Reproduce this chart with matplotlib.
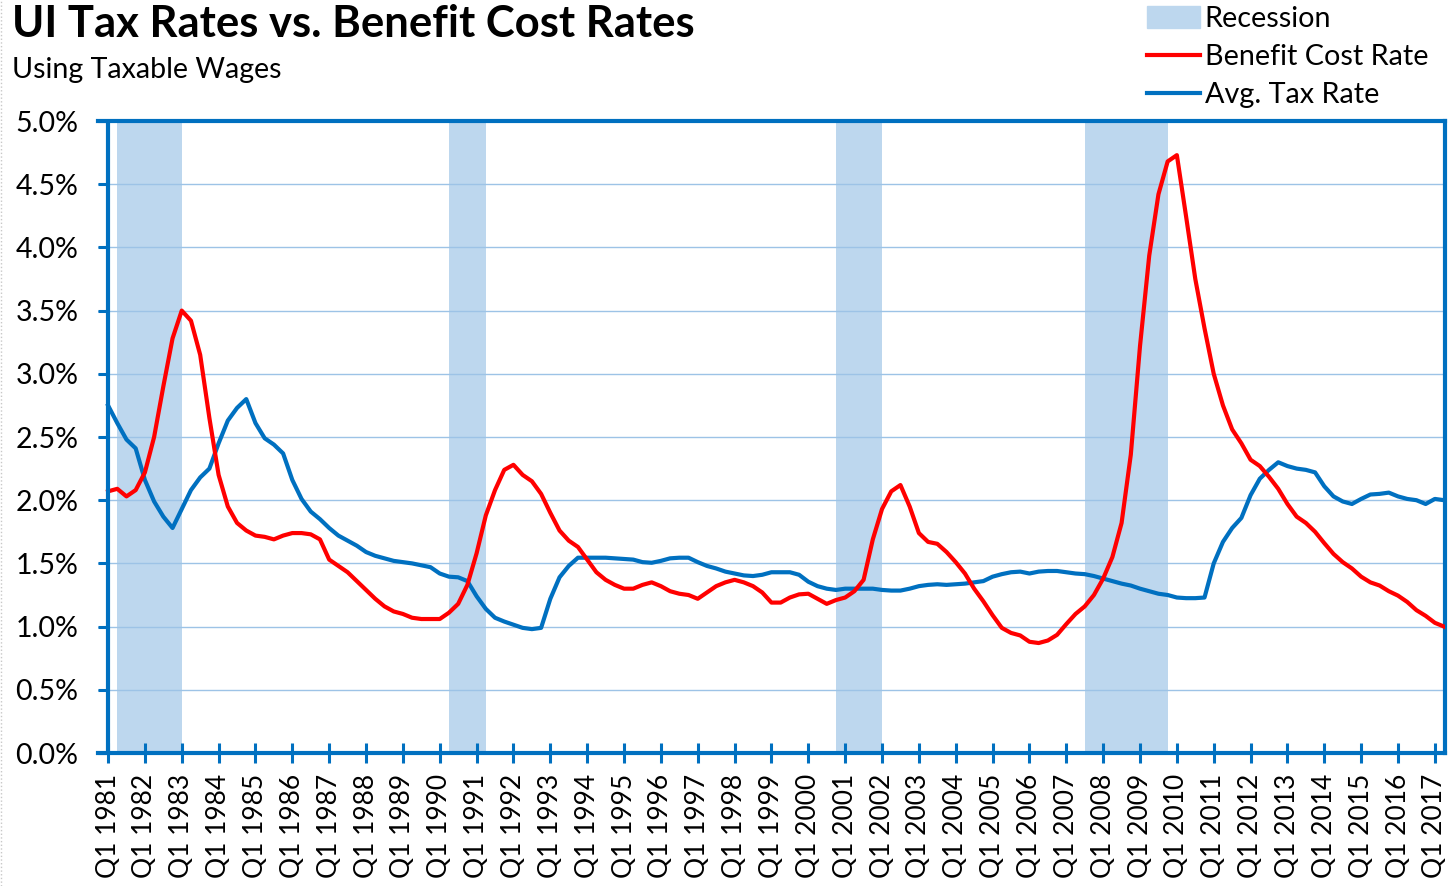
import matplotlib
matplotlib.use("Agg")
import matplotlib.pyplot as plt
from matplotlib.lines import Line2D
from matplotlib.patches import Patch
from matplotlib.ticker import FuncFormatter, FixedLocator, MultipleLocator

plt.rcParams['font.family'] = ['Lato', 'DejaVu Sans']

# quarterly series, Q1 1981 .. Q2 2017 (percent)
benefit_cost_rate = [
    2.07, 2.09, 2.03, 2.08, 2.22, 2.50, 2.90, 3.28, 3.50, 3.42,
    3.15, 2.65, 2.20, 1.95, 1.82, 1.76, 1.72, 1.71, 1.69, 1.72,
    1.74, 1.74, 1.73, 1.69, 1.53, 1.48, 1.43, 1.36, 1.29, 1.22,
    1.16, 1.12, 1.10, 1.07, 1.06, 1.06, 1.06, 1.11, 1.18, 1.33,
    1.58, 1.88, 2.08, 2.24, 2.28, 2.20, 2.15, 2.05, 1.90, 1.76,
    1.68, 1.63, 1.53, 1.43, 1.37, 1.33, 1.30, 1.30, 1.33, 1.35,
    1.32, 1.28, 1.26, 1.25, 1.22, 1.27, 1.32, 1.35, 1.37, 1.35,
    1.32, 1.27, 1.19, 1.19, 1.23, 1.255, 1.26, 1.22, 1.18, 1.21,
    1.23, 1.28, 1.37, 1.69, 1.93, 2.07, 2.12, 1.95, 1.74, 1.67,
    1.655, 1.59, 1.51, 1.42, 1.30, 1.20, 1.09, 0.99, 0.95, 0.93,
    0.88, 0.87, 0.89, 0.935, 1.02, 1.10, 1.16, 1.25, 1.38, 1.55,
    1.82, 2.36, 3.22, 3.935, 4.42, 4.68, 4.73, 4.245, 3.75, 3.36,
    3.00, 2.75, 2.56, 2.45, 2.32, 2.27, 2.185, 2.09, 1.97, 1.87,
    1.82, 1.75, 1.66, 1.575, 1.51, 1.46, 1.395, 1.35, 1.325, 1.28,
    1.245, 1.195, 1.13, 1.085, 1.03, 1.00,
]
avg_tax_rate = [
    2.75, 2.61, 2.48, 2.41, 2.16, 1.99, 1.87, 1.78, 1.93, 2.08,
    2.18, 2.25, 2.45, 2.63, 2.73, 2.80, 2.61, 2.49, 2.44, 2.37,
    2.16, 2.01, 1.91, 1.85, 1.78, 1.72, 1.68, 1.64, 1.59, 1.56,
    1.54, 1.52, 1.51, 1.50, 1.485, 1.47, 1.42, 1.395, 1.39, 1.36,
    1.24, 1.14, 1.07, 1.04, 1.015, 0.99, 0.98, 0.99, 1.22, 1.39,
    1.48, 1.545, 1.545, 1.545, 1.545, 1.54, 1.535, 1.53, 1.51, 1.505,
    1.52, 1.54, 1.545, 1.545, 1.51, 1.48, 1.46, 1.435, 1.42, 1.405,
    1.40, 1.41, 1.43, 1.43, 1.43, 1.41, 1.355, 1.32, 1.30, 1.29,
    1.30, 1.30, 1.30, 1.30, 1.29, 1.285, 1.285, 1.30, 1.32, 1.33,
    1.335, 1.33, 1.335, 1.34, 1.35, 1.36, 1.395, 1.415, 1.43, 1.435,
    1.42, 1.435, 1.44, 1.44, 1.43, 1.42, 1.415, 1.40, 1.38, 1.36,
    1.34, 1.325, 1.30, 1.28, 1.26, 1.25, 1.23, 1.225, 1.225, 1.23,
    1.50, 1.67, 1.78, 1.86, 2.04, 2.17, 2.24, 2.30, 2.27, 2.25,
    2.24, 2.22, 2.11, 2.03, 1.99, 1.97, 2.01, 2.045, 2.05, 2.06,
    2.03, 2.01, 2.00, 1.97, 2.01, 2.00,
]
# recession spans as (start, end) quarter index from Q1 1981
recessions = [(1, 8), (37, 41), (79, 84), (106, 115)]
years = list(range(1981, 2018))
tick_labels = [f"Q1 {y}" for y in years]

BLUE = "#0070C0"
RED = "#FF0000"
BAND = "#BDD7EE"
GRID = "#9DC3E6"

fig = plt.figure(figsize=(14.56, 8.86), dpi=100)
ax = fig.add_axes([98 / 1456, 133 / 886, 1347 / 1456, 632 / 886])

x = list(range(len(benefit_cost_rate)))
for a, b in recessions:
    ax.axvspan(a, b, color=BAND, lw=0, zorder=0.1)
ax.plot(x, avg_tax_rate, color=BLUE, lw=3, zorder=3, solid_joinstyle="round")
ax.plot(x, benefit_cost_rate, color=RED, lw=3, zorder=3, solid_joinstyle="round")
ax.axvline(0, color=BLUE, lw=3, zorder=4)

ax.set_xlim(-1.09, 145.1)
ax.set_ylim(0, 5)
ax.yaxis.set_major_locator(MultipleLocator(0.5))
ax.yaxis.set_major_formatter(FuncFormatter(lambda v, p: f"{v:.1f}%"))
ax.xaxis.set_major_locator(FixedLocator([4 * i for i in range(len(years))]))
ax.set_xticklabels(tick_labels, rotation=90)

ax.set_axisbelow(True)
ax.grid(axis="y", color=GRID, lw=1.0)
for side in ("top", "right", "bottom"):
    ax.spines[side].set_color(BLUE)
    ax.spines[side].set_linewidth(3)
ax.spines["left"].set_visible(False)
ax.tick_params(axis="y", direction="in", length=7.5, width=2.2, color=BLUE,
               labelsize=20.5, pad=14)
ax.tick_params(axis="x", direction="inout", length=14, width=2.2, color=BLUE,
               labelsize=19, pad=8)

fig.text(12 / 1456, 1 - 37 / 886, "UI Tax Rates vs. Benefit Cost Rates",
         fontsize=31.4, fontweight="bold", va="baseline")
fig.text(12 / 1456, 1 - 78 / 886, "Using Taxable Wages", fontsize=20.6, va="baseline")

handles = [Patch(facecolor=BAND, edgecolor=BAND),
           Line2D([], [], color=RED, lw=3),
           Line2D([], [], color=BLUE, lw=3)]
fig.legend(handles, ["Recession", "Benefit Cost Rate", "Avg. Tax Rate"],
           loc="upper left", bbox_to_anchor=(1147 / 1456, 1 - 6 / 886),
           frameon=False, fontsize=20.7, handlelength=1.84, handletextpad=0.17,
           handleheight=0.75, labelspacing=0.42, borderpad=0, borderaxespad=0)

fig.add_artist(Line2D([0.001, 0.001], [0, 1], ls=":", color="#c8c8c8", lw=1))

fig.savefig("out.png", dpi=100)
